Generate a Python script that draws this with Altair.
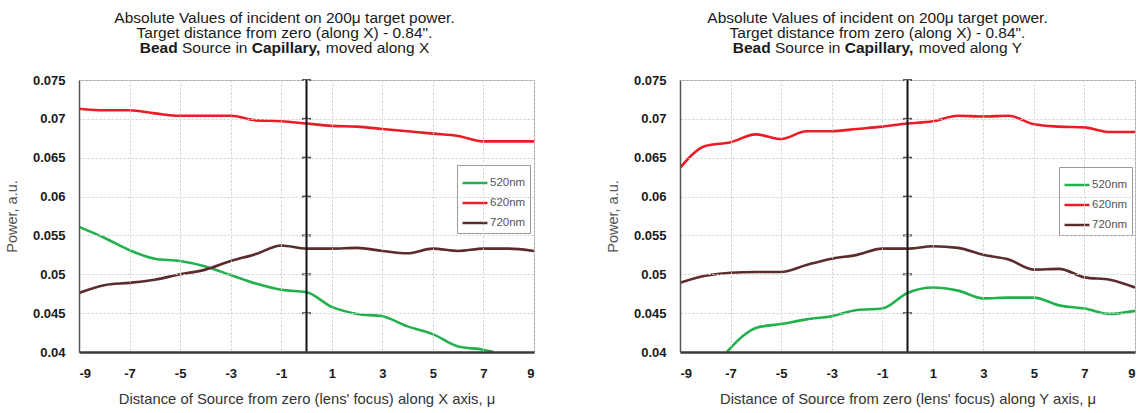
import altair as alt
import pandas as pd

FONT = "Liberation Sans"

SERIES = ["520nm", "620nm", "720nm"]
COLORS = ["#22b14c", "#ed1c24", "#5c2b2b"]

X_STEPS = list(range(-9, 10))
X_TICKS = [-9, -7, -5, -3, -1, 1, 3, 5, 7, 9]
Y_TICKS = [0.04, 0.045, 0.05, 0.055, 0.06, 0.065, 0.07, 0.075]

# Left panel: source moved along X
LEFT_520_X = list(range(-9, 8)) + [7.4]
LEFT_520 = [0.0561, 0.0547, 0.0531, 0.0520, 0.0517, 0.0510, 0.0499, 0.0488, 0.0480,
            0.0477, 0.0458, 0.0449, 0.0446, 0.0433, 0.0423, 0.0407, 0.0403, 0.0400]
LEFT_620 = [0.0713, 0.0711, 0.0711, 0.0707, 0.0704, 0.0704, 0.0704, 0.0698, 0.0697,
            0.0694, 0.0691, 0.0690, 0.0687, 0.0684, 0.0681, 0.0678, 0.0671, 0.0671, 0.0671]
LEFT_720 = [0.0476, 0.0486, 0.0489, 0.0493, 0.0500, 0.0506, 0.0517, 0.0526, 0.0537,
            0.0533, 0.0533, 0.0534, 0.0530, 0.0527, 0.0533, 0.0530, 0.0533, 0.0533, 0.0530]

# Right panel: source moved along Y
RIGHT_520_X = [-7.15, -6.5] + list(range(-6, 10))
RIGHT_520 = [0.0400, 0.0421, 0.0431, 0.0436, 0.0442, 0.0446, 0.0454, 0.0456, 0.0476,
             0.0483, 0.0479, 0.0469, 0.0470, 0.0470, 0.0460, 0.0456, 0.0449, 0.0453]
RIGHT_620 = [0.0637, 0.0665, 0.0670, 0.0680, 0.0674, 0.0684, 0.0684, 0.0687, 0.0690,
             0.0694, 0.0697, 0.0704, 0.0703, 0.0704, 0.0693, 0.0690, 0.0689, 0.0683, 0.0683]
RIGHT_720 = [0.0489, 0.0498, 0.0502, 0.0503, 0.0503, 0.0512, 0.0520, 0.0525, 0.0533,
             0.0533, 0.0536, 0.0534, 0.0525, 0.0519, 0.0506, 0.0507, 0.0496, 0.0493, 0.0483]

TITLE_1 = "Absolute Values of incident on 200\u03bc target power."
TITLE_2 = "Target distance from zero (along X) - 0.84\"."
LEFT_XTITLE = "Distance of Source from zero (lens' focus) along X axis, \u03bc"
RIGHT_XTITLE = "Distance of Source from zero (lens' focus) along  Y axis, \u03bc"

W, H = 455, 272
TFS = 15.5

# Arial-metric advance widths (per 1000 em) for laying out the mixed-weight title line
REG = {" ": 278, "S": 667, "o": 556, "u": 556, "r": 333, "c": 500, "e": 556, "i": 222,
       "n": 556, "m": 833, "v": 500, "d": 556, "a": 556, "l": 222, "g": 556, "X": 667, "Y": 667}
BLD = {" ": 278, "B": 722, "e": 556, "a": 556, "d": 611, "C": 722, "p": 611, "i": 278,
       "l": 278, "r": 389, "y": 556, ",": 278}


def tw(s, bold):
    t = BLD if bold else REG
    return sum(t.get(ch, 556) for ch in s) * TFS / 1000.0


def long_df(parts):
    rows = []
    for name, xs, ys in parts:
        for x, y in zip(xs, ys):
            rows.append({"x": x, "y": y, "s": name})
    return pd.DataFrame(rows)


def text_layer(txt, x, y, bold=False, align="center"):
    return alt.Chart(pd.DataFrame({"t": [txt]})).mark_text(
        align=align, baseline="alphabetic", font=FONT, fontSize=TFS,
        fontWeight="bold" if bold else "normal", color="#1a1a1a"
    ).encode(x=alt.value(x), y=alt.value(y), text="t:N")


def panel(df, axis_letter, xtitle, cx, legx, legy):
    xs = alt.Scale(domain=[-9, 9], nice=False, zero=False)
    ys = alt.Scale(domain=[0.04, 0.075], nice=False, zero=False)
    lines = alt.Chart(df).mark_line(strokeWidth=2.6, interpolate="monotone", clip=True).encode(
        x=alt.X("x:Q", scale=xs, axis=alt.Axis(
            values=X_TICKS, title=xtitle, ticks=False, labelFontWeight="bold",
            labelExpr="toString(datum.value)",
            labelFontSize=13, labelColor="#1a1a1a", labelPadding=15, labelOverlap=False,
            titleFontSize=14.8, titleFontWeight="normal", titleColor="#333333", titlePadding=11,
            domainColor="#3a3a3a", domainWidth=2.5, gridColor="#cfcfcf", gridDash=[2, 2],
            gridWidth=1, zindex=1)),
        y=alt.Y("y:Q", scale=ys, axis=alt.Axis(
            values=Y_TICKS, format="~g", title="Power, a.u.", ticks=False,
            labelFontWeight="bold", labelFontSize=13, labelColor="#1a1a1a", labelPadding=14,
            labelOverlap=False, tickCount=8,
            titleFontSize=14.5, titleFontWeight="normal", titleColor="#555555", titlePadding=13,
            domainColor="#555555", domainWidth=1.5, gridColor="#cfcfcf", gridDash=[2, 2],
            gridWidth=1, zindex=1)),
        color=alt.Color("s:N", scale=alt.Scale(domain=SERIES, range=COLORS), legend=alt.Legend(
            orient="none", legendX=legx, legendY=legy, title=None, symbolType="stroke",
            symbolStrokeWidth=2.5, symbolSize=620, labelFontSize=11.5, labelColor="#555555",
            labelOffset=1, padding=4, rowPadding=0, strokeColor="#9a9a9a", fillColor="white")),
    )
    vline = alt.Chart(pd.DataFrame({"x": [0], "y": [0.04], "y2": [0.075]})).mark_rule(
        color="#111111", strokeWidth=2).encode(x="x:Q", y="y:Q", y2="y2:Q")
    vticks = alt.Chart(pd.DataFrame({"x": [0] * 7, "y": Y_TICKS[1:]})).mark_tick(
        orient="horizontal", size=9, thickness=2, color="#111111").encode(x="x:Q", y="y:Q")

    # title lines
    t1 = text_layer(TITLE_1, cx, -57.5)
    t2 = text_layer(TITLE_2, cx, -42.5)
    segs = [("Bead", True), ("Source in", False), ("Capillary,", True),
            ("moved along " + axis_letter, False)]
    sp = REG[" "] * TFS / 1000.0
    total = sum(tw(s, b) for s, b in segs) + sp * (len(segs) - 1)
    x0 = cx - total / 2.0
    t3 = []
    for s, b in segs:
        t3.append(text_layer(s, x0, -27.5, bold=b, align="left"))
        x0 += tw(s, b) + sp

    return alt.layer(lines, vline, vticks, t1, t2, *t3).properties(width=W, height=H)


left_df = long_df([("520nm", LEFT_520_X, LEFT_520), ("620nm", X_STEPS, LEFT_620),
                   ("720nm", X_STEPS, LEFT_720)])
right_df = long_df([("520nm", RIGHT_520_X, RIGHT_520), ("620nm", X_STEPS, RIGHT_620),
                    ("720nm", X_STEPS, RIGHT_720)])

left = panel(left_df, "X", LEFT_XTITLE, 205.5, 378, 85)
right = panel(right_df, "Y", RIGHT_XTITLE, 197.5, 379, 87)

chart = alt.hconcat(left, right, spacing=69).resolve_scale(color="independent").resolve_legend(
    color="independent"
).configure(
    font=FONT, background="white", padding={"left": 3, "top": 10, "right": 0, "bottom": 0}
).configure_view(stroke="#a6a6a6", strokeWidth=1)

chart.save("out.html", embed_options={"renderer": "svg", "actions": False})
